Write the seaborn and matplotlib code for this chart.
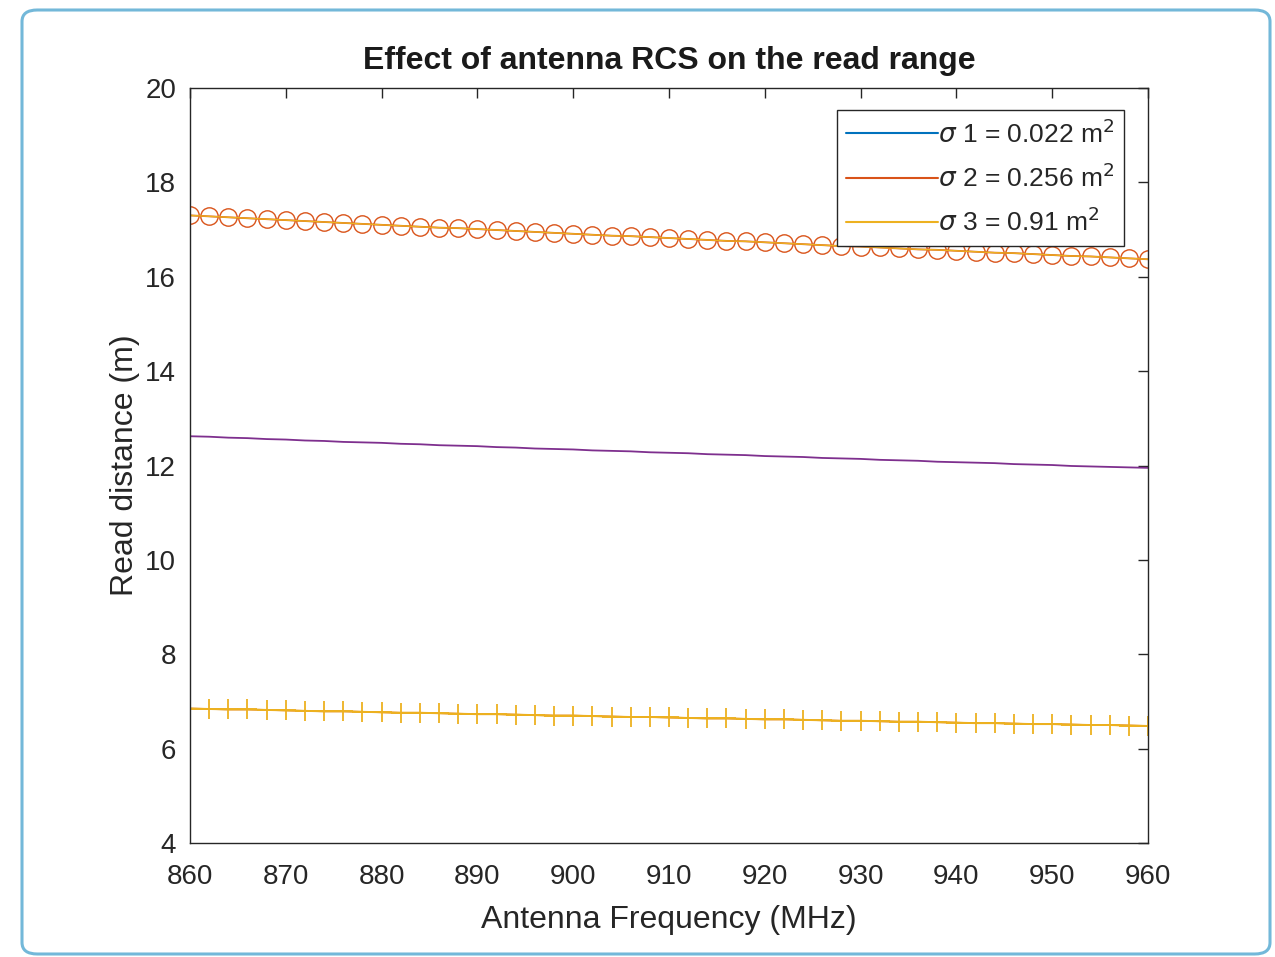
import numpy as np
import pandas as pd
import seaborn as sns
import matplotlib.pyplot as plt
from matplotlib.patches import FancyBboxPatch
from matplotlib.lines import Line2D

# Antenna frequency sweep (MHz)
freq_mhz = list(range(860, 961, 2))

# Read distance (m) for the three RCS values
range_high = [17.30, 17.28, 17.26, 17.24, 17.22, 17.20, 17.18, 17.16, 17.14, 17.12,
              17.10, 17.08, 17.06, 17.04, 17.03, 17.01, 16.99, 16.97, 16.95, 16.93,
              16.91, 16.89, 16.87, 16.86, 16.84, 16.82, 16.80, 16.78, 16.76, 16.75,
              16.73, 16.71, 16.69, 16.67, 16.65, 16.64, 16.62, 16.60, 16.58, 16.57,
              16.55, 16.53, 16.51, 16.50, 16.48, 16.46, 16.44, 16.43, 16.41, 16.39,
              16.37]
range_mid = [12.62, 12.61, 12.59, 12.58, 12.56, 12.55, 12.53, 12.52, 12.50, 12.49,
             12.48, 12.46, 12.45, 12.43, 12.42, 12.41, 12.39, 12.38, 12.36, 12.35,
             12.34, 12.32, 12.31, 12.30, 12.28, 12.27, 12.26, 12.24, 12.23, 12.22,
             12.20, 12.19, 12.18, 12.16, 12.15, 12.14, 12.12, 12.11, 12.10, 12.08,
             12.07, 12.06, 12.05, 12.03, 12.02, 12.01, 11.99, 11.98, 11.97, 11.96,
             11.95]
range_low = [6.85, 6.84, 6.83, 6.83, 6.82, 6.81, 6.80, 6.79, 6.79, 6.78,
             6.77, 6.76, 6.76, 6.75, 6.74, 6.73, 6.73, 6.72, 6.71, 6.70,
             6.70, 6.69, 6.68, 6.67, 6.67, 6.66, 6.65, 6.64, 6.64, 6.63,
             6.62, 6.62, 6.61, 6.60, 6.59, 6.59, 6.58, 6.57, 6.57, 6.56,
             6.55, 6.54, 6.54, 6.53, 6.52, 6.52, 6.51, 6.50, 6.50, 6.49,
             6.48]

legend_labels = [r"$\sigma$ 1 = 0.022 m$^2$",
                 r"$\sigma$ 2 = 0.256 m$^2$",
                 r"$\sigma$ 3 = 0.91 m$^2$"]

x_ticks = list(range(860, 961, 10))
y_ticks = list(range(4, 21, 2))

# MATLAB-like default color order
c_blue = (0.0, 0.447, 0.741)
c_orange = (0.850, 0.325, 0.098)
c_yellow = (0.929, 0.694, 0.125)
c_purple = (0.494, 0.184, 0.556)
txt_col = (0.15, 0.15, 0.15)

sns.set_style("white")
plt.rcParams['font.family'] = ['Liberation Sans', 'DejaVu Sans']
plt.rcParams['mathtext.fontset'] = 'dejavusans'

df = pd.DataFrame({"freq": freq_mhz, "high": range_high,
                   "mid": range_mid, "low": range_low})

fig = plt.figure(figsize=(12.75, 9.57), dpi=100)
ax = fig.add_axes([190 / 1275, 1 - 843 / 957, (1148 - 190) / 1275, (843 - 88) / 957])

# Outer rounded frame
frame = FancyBboxPatch((22 / 1275, 3 / 957), (1270 - 22) / 1275, (952 - 8) / 957,
                       boxstyle="round,pad=0,rounding_size=0.012",
                       transform=fig.transFigure, fill=False,
                       edgecolor=(0.45, 0.72, 0.85), linewidth=2.2, zorder=0)
fig.patches.append(frame)

# Highest-RCS series: open circles over overlapping lines
sns.lineplot(data=df, x="freq", y="high", ax=ax, color=c_orange, linewidth=1.3,
             marker="o", markersize=12.5, markerfacecolor="none",
             markeredgecolor=c_orange, markeredgewidth=1.0, legend=False)
sns.lineplot(data=df, x="freq", y="high", ax=ax, color=c_yellow, linewidth=1.0,
             legend=False)

# Middle series: plain line
sns.lineplot(data=df, x="freq", y="mid", ax=ax, color=c_purple, linewidth=1.3,
             legend=False)

# Lowest series: plus markers
sns.lineplot(data=df, x="freq", y="low", ax=ax, color=c_orange, linewidth=1.2,
             legend=False)
sns.lineplot(data=df, x="freq", y="low", ax=ax, color=c_yellow, linewidth=1.4,
             marker="+", markersize=15, markeredgewidth=1.3,
             markeredgecolor=c_yellow, legend=False)

ax.set_xlim(860, 960)
ax.set_ylim(4, 20)
ax.set_xticks(x_ticks)
ax.set_yticks(y_ticks)
ax.tick_params(direction="in", length=7, width=1.0, colors=txt_col,
               labelsize=20, top=True, right=True)
ax.tick_params(axis="x", pad=15)
ax.tick_params(axis="y", pad=10)
for s in ax.spines.values():
    s.set_color((0.15, 0.15, 0.15))
    s.set_linewidth(1.0)
    s.set_visible(True)

ax.set_xlabel("Antenna Frequency (MHz)", fontsize=23, color=txt_col, labelpad=11)
ax.set_ylabel("Read distance (m)", fontsize=23, color=txt_col, labelpad=4)
ax.set_title("Effect of antenna RCS on the read range", fontsize=23,
             fontweight="bold", color=(0.1, 0.1, 0.1), pad=14)

handles = [Line2D([0], [0], color=c_blue, lw=1.5),
           Line2D([0], [0], color=c_orange, lw=1.5),
           Line2D([0], [0], color=c_yellow, lw=1.5)]
leg = ax.legend(handles, legend_labels, loc="upper right",
                bbox_to_anchor=(0.975, 0.971), borderaxespad=0, fontsize=19,
                handlelength=3.5, handletextpad=0.0, labelspacing=0.6,
                borderpad=0.35, fancybox=False, framealpha=1,
                edgecolor=(0.15, 0.15, 0.15))
leg.get_frame().set_linewidth(1.0)
for t in leg.get_texts():
    t.set_color(txt_col)

fig.savefig("out.png", dpi=100)
